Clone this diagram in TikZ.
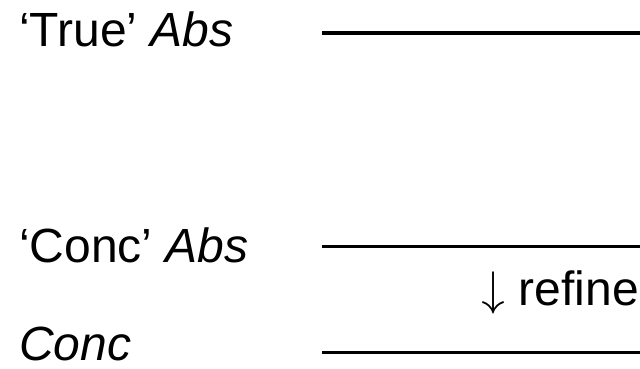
\documentclass[tikz,border=0pt]{standalone}
\usepackage{fontspec}
\usepackage{unicode-math}
\setmainfont{Liberation Sans}
\usepackage{tikz}
\definecolor{ink}{RGB}{0, 0, 0}

\tikzset{
  level/.style={anchor=base west, inner sep=0pt, color=ink, font=\fontsize{48}{56}\selectfont},
  note/.style={anchor=base east, inner sep=0pt, color=ink, font=\fontsize{48}{56}\selectfont},
  rule/.style={color=ink, line width=3.5pt}
}

\begin{document}
\begin{tikzpicture}[x=1pt, y=1pt]
            \useasboundingbox (0, 0) rectangle (640, 368);
            % labels of the three levels
            \node[level] (trueabs) at ( 19, 322) {`True' \textit{Abs}};
            \node[level] (concabs) at ( 19, 106) {`Conc' \textit{Abs}};
            \node[level, text depth=0pt] (conc) at ( 19,   8) {\textit{Conc}};
            \node[note]  (refine)  at (639,  63) {$\downarrow$ refine};
            % rules to the right of each level
            \coordinate (ta) at (322, 335.0);  \coordinate (tb) at (640, 335.0);
            \coordinate (ca) at (322, 121.5);  \coordinate (cb) at (640, 121.5);
            \coordinate (ka) at (322,  15.5);  \coordinate (kb) at (640,  15.5);
            \draw[rule] (ta) -- (tb);
            \draw[rule] (ca) -- (cb);
            \draw[rule] (ka) -- (kb);
        \end{tikzpicture}
\end{document}
